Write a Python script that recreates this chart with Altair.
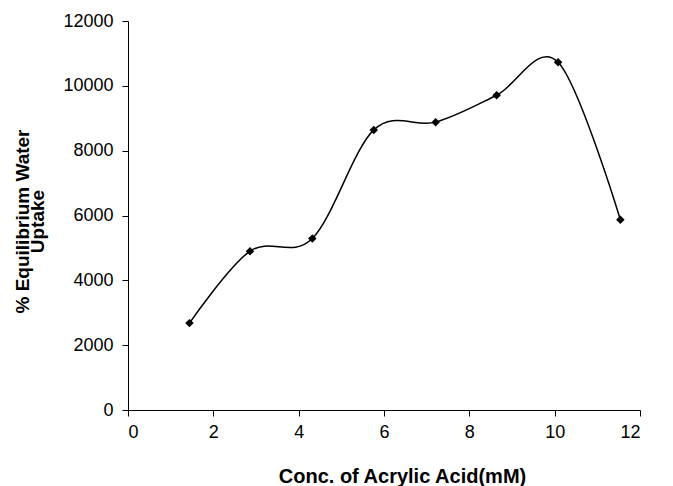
import altair as alt
import pandas as pd

conc = [1.44, 2.86, 4.32, 5.76, 7.21, 8.64, 10.08, 11.54]
uptake = [2680, 4900, 5290, 8640, 8880, 9710, 10730, 5870]

df = pd.DataFrame({"conc": conc, "uptake": uptake})

FONT = "Liberation Sans"

x = alt.X(
    "conc:Q",
    scale=alt.Scale(domain=[0, 12], nice=False, zero=False),
    axis=alt.Axis(
        title="Conc. of Acrylic Acid(mM)",
        values=[0, 2, 4, 6, 8, 10, 12],
        format="d",
        grid=False,
        domainColor="black",
        tickColor="black",
        tickSize=6,
        labelPadding=7,
        labelFont=FONT,
        labelFontSize=18,
        labelColor="black",
        titleFont=FONT,
        titleFontSize=20,
        titleFontWeight="bold",
        titleColor="black",
        titleX=274,
        titleY=72,
        titleAlign="center",
        titleBaseline="alphabetic",
    ),
)
y = alt.Y(
    "uptake:Q",
    scale=alt.Scale(domain=[0, 12000], nice=False),
    axis=alt.Axis(
        title=["% Equilibrium Water", "Uptake"],
        values=[0, 2000, 4000, 6000, 8000, 10000, 12000],
        format="d",
        grid=False,
        domainColor="black",
        tickColor="black",
        tickSize=6,
        labelPadding=9,
        labelFont=FONT,
        labelFontSize=18,
        labelColor="black",
        titleFont=FONT,
        titleFontSize=19,
        titleFontWeight="bold",
        titleColor="black",
        titleAngle=270,
        titleX=-100,
        titleY=200,
        titleAlign="center",
        titleBaseline="alphabetic",
        titleLineHeight=15,
    ),
)

base = alt.Chart(df)
line = base.mark_line(interpolate="cardinal", color="black", strokeWidth=1.5).encode(x=x, y=y)
pts = base.mark_point(shape="diamond", filled=True, color="black", size=72, opacity=1).encode(x=x, y=y)

chart = (
    alt.layer(line, pts)
    .properties(
        width=512,
        height=389,
        autosize=alt.AutoSizeParams(type="none"),
        padding={"left": 120, "top": 13, "right": 25, "bottom": 76},
        background="white",
    )
    .configure_view(stroke=None)
)

chart.save("out.html", embed_options={"renderer": "svg", "actions": False})
